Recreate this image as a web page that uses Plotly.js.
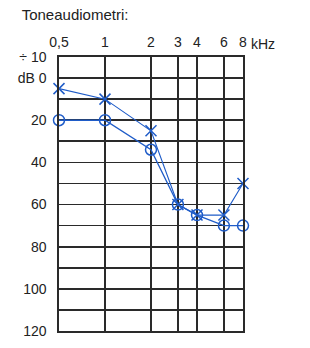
<!DOCTYPE html>
<html>
<head>
<meta charset="utf-8">
<script src="https://cdn.plot.ly/plotly-3.0.1.min.js"></script>
<style>html,body{margin:0;padding:0;background:#fff;}#chart{width:310px;height:348px;}</style>
</head>
<body>
<div id="chart"></div>
<script>
const freqs = [0.5, 1, 2, 3, 4, 6, 8];
const freqLabels = ["0,5", "1", "2", "3", "4", "6", "8"];
const circleEar = [20, 20, 34, 60, 65, 70, 70];
const crossEar = [5, 10, 25, 60, 65, 65, 50];
const dbTicks = [-10, 0, 10, 20, 30, 40, 50, 60, 70, 80, 90, 100, 110, 120];
const dbLabels = ["÷ 10", "dB 0", "", "20", "", "40", "", "60", "", "80", "", "100", "", "120"];

const blue = '#1f5cc8';
const font = {family: 'Liberation Sans, Arial, sans-serif', size: 14, color: '#222'};

const traces = [
  {x: freqs, y: circleEar, type: 'scatter', mode: 'lines+markers',
   line: {color: blue, width: 1.3},
   marker: {symbol: 'circle-open', size: 11, color: blue, line: {width: 1.5, color: blue}},
   cliponaxis: false, showlegend: false},
  {x: freqs, y: crossEar, type: 'scatter', mode: 'lines+markers',
   line: {color: blue, width: 1.1},
   marker: {symbol: 'x-thin-open', size: 11, color: blue, line: {width: 1.5, color: blue}},
   cliponaxis: false, showlegend: false}
];

const layout = {
  width: 310, height: 348,
  margin: {l: 59, r: 67, t: 57, b: 17},
  paper_bgcolor: '#fff', plot_bgcolor: '#fff',
  font: font,
  title: {text: 'Toneaudiometri:', x: 0.07, xanchor: 'left', y: 0.957, yanchor: 'middle', font: {family: font.family, size: 15, color: '#222'}},
  xaxis: {type: 'log', side: 'top', range: [Math.log10(0.5), Math.log10(8)],
    tickvals: freqs, ticktext: freqLabels, ticks: '', ticklabelstandoff: 3,
    showgrid: true, gridcolor: '#2a2a2a', gridwidth: 1.7,
    showline: true, linecolor: '#2a2a2a', linewidth: 1.7, mirror: true, zeroline: false,
    tickfont: font, fixedrange: true},
  yaxis: {range: [120, -10], tickvals: dbTicks, ticktext: dbLabels, ticks: '',
    ticklabelstandoff: 8,
    showgrid: true, gridcolor: '#2a2a2a', gridwidth: 1.7,
    showline: true, linecolor: '#2a2a2a', linewidth: 1.7, mirror: true, zeroline: false,
    tickfont: font, fixedrange: true},
  annotations: [{text: 'kHz', xref: 'paper', yref: 'paper', x: 1, y: 1, xanchor: 'left', yanchor: 'bottom',
    xshift: 6, yshift: 3, showarrow: false, font: font}]
};

Plotly.newPlot('chart', traces, layout, {displayModeBar: false, staticPlot: true});
</script>
</body>
</html>
